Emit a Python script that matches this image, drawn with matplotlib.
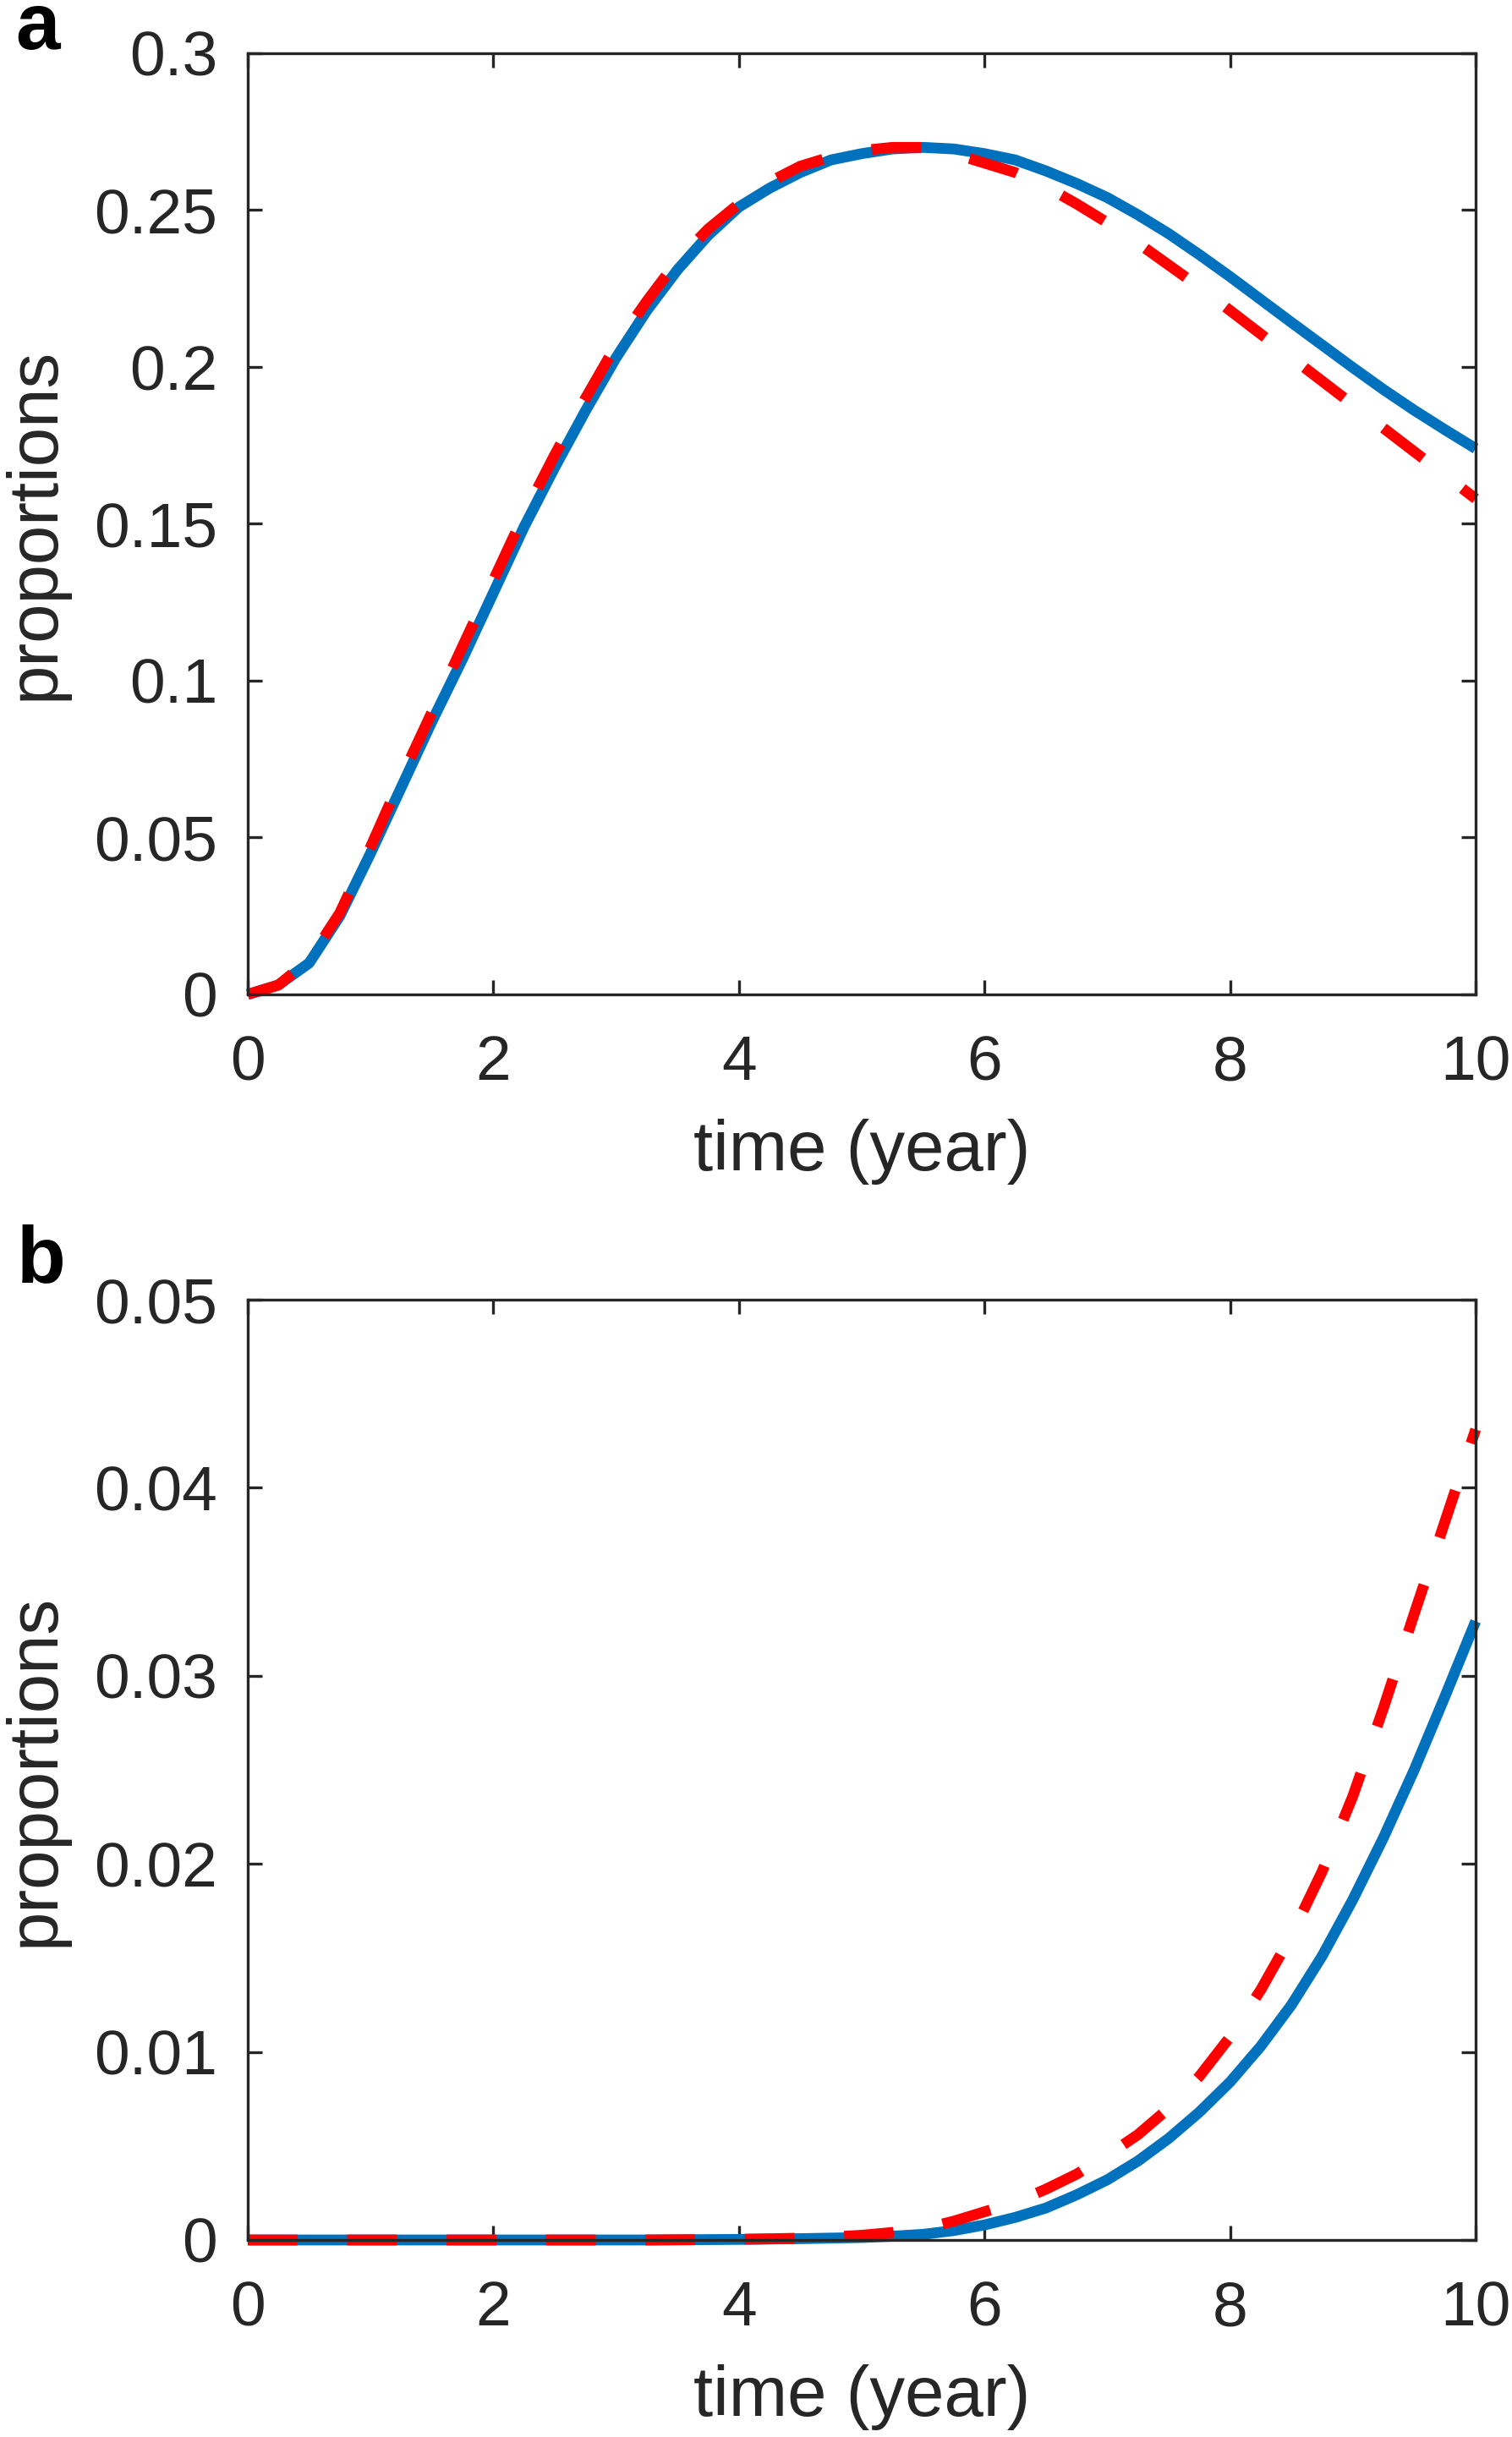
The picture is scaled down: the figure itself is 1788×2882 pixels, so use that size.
import matplotlib
matplotlib.use("Agg")
import matplotlib.pyplot as plt

plt.rcParams['font.family'] = ['Liberation Sans', 'DejaVu Sans']

# time grid (years), every quarter year
t = [0, 0.25, 0.5, 0.75, 1, 1.25, 1.5, 1.75, 2, 2.25, 2.5, 2.75, 3, 3.25, 3.5, 3.75,
     4, 4.25, 4.5, 4.75, 5, 5.25, 5.5, 5.75, 6, 6.25, 6.5, 6.75, 7, 7.25, 7.5, 7.75,
     8, 8.25, 8.5, 8.75, 9, 9.25, 9.5, 9.75, 10]

# panel a
a_model = [0, 0.003, 0.010, 0.025, 0.045, 0.066, 0.087, 0.107, 0.128, 0.149, 0.168, 0.186,
           0.203, 0.218, 0.231, 0.242, 0.251, 0.257, 0.262, 0.266, 0.268, 0.2695, 0.270,
           0.2695, 0.268, 0.266, 0.2625, 0.2585, 0.254, 0.2485, 0.2425, 0.2358, 0.2288,
           0.2215, 0.2142, 0.207, 0.1998, 0.1928, 0.1862, 0.18, 0.174]
a_data = [0, 0.003, 0.011, 0.026, 0.047, 0.069, 0.090, 0.111, 0.132, 0.153, 0.172, 0.190,
          0.207, 0.221, 0.234, 0.244, 0.252, 0.259, 0.264, 0.267, 0.269, 0.270, 0.270,
          0.268, 0.265, 0.262, 0.2575, 0.252, 0.246, 0.2395, 0.2325, 0.2255, 0.218,
          0.2105, 0.203, 0.1955, 0.188, 0.1805, 0.173, 0.1655, 0.158]

# panel b
b_model = [0, 0, 0, 0, 0, 0, 0, 0, 0, 0, 0, 0, 0, 0, 0.00001, 0.00002,
           0.00003, 0.00005, 0.00007, 0.0001, 0.00013, 0.0002, 0.0003, 0.0005, 0.0008,
           0.0012, 0.0017, 0.0024, 0.0032, 0.0042, 0.0054, 0.0068, 0.0084, 0.0103, 0.0125,
           0.0151, 0.0181, 0.0214, 0.0250, 0.0289, 0.0329]
b_data = [0, 0, 0, 0, 0, 0, 0, 0, 0, 0, 0, 0, 0, 0, 0.00001, 0.00002,
          0.00004, 0.00006, 0.0001, 0.00016, 0.00025, 0.0004, 0.0006, 0.0010, 0.0015,
          0.0020, 0.0027, 0.0035, 0.0045, 0.0056, 0.0070, 0.0087, 0.0108, 0.0133, 0.0162,
          0.0196, 0.0236, 0.0283, 0.0333, 0.0382, 0.0431]

xticks = [0, 2, 4, 6, 8, 10]
yticks_a = [0, 0.05, 0.1, 0.15, 0.2, 0.25, 0.3]
ylabels_a = ["0", "0.05", "0.1", "0.15", "0.2", "0.25", "0.3"]
yticks_b = [0, 0.01, 0.02, 0.03, 0.04, 0.05]
ylabels_b = ["0", "0.01", "0.02", "0.03", "0.04", "0.05"]

W, H = 1788, 2882
fig = plt.figure(figsize=(W / 100, H / 100), dpi=100)
ax_a = fig.add_axes([293 / W, 1 - 1176 / H, 1452 / W, 1113 / H])
ax_b = fig.add_axes([293 / W, 1 - 2649 / H, 1452 / W, 1112 / H])

blue = "#0072BD"
red = "#FF0000"
ink = "#262626"

for ax, m, d, yt, yl, ymax in [
    (ax_a, a_model, a_data, yticks_a, ylabels_a, 0.3),
    (ax_b, b_model, b_data, yticks_b, ylabels_b, 0.05),
]:
    ax.plot(t, m, color=blue, lw=9.2, solid_capstyle="butt", solid_joinstyle="round",
            clip_on=False)
    ln, = ax.plot(t, d, color=red, lw=9.2, ls="--", dash_capstyle="butt", clip_on=False)
    ln.set_dashes((4.6, 4.6))
    ax.set_xlim(0, 10)
    ax.set_ylim(0, ymax)
    ax.set_xticks(xticks)
    ax.set_xticklabels([str(x) for x in xticks])
    ax.set_yticks(yt)
    ax.set_yticklabels(yl)
    for s in ax.spines.values():
        s.set_linewidth(2.4)
        s.set_color(ink)
    ax.tick_params(direction="in", length=12, width=2.4, colors=ink, labelsize=54,
                   top=True, right=True)
    ax.tick_params(axis="x", pad=34)
    ax.tick_params(axis="y", pad=26)
    ax.set_xlabel("time (year)", fontsize=60, color=ink, labelpad=22)
    ax.set_ylabel("proportions", fontsize=60, color=ink, labelpad=22)

fig.text(18 / W, 1 - 58 / H, "a", fontsize=68, fontweight="bold", va="baseline", ha="left")
fig.text(20 / W, 1 - 1516 / H, "b", fontsize=68, fontweight="bold", va="baseline", ha="left")

fig.savefig("out.png", dpi=100)
